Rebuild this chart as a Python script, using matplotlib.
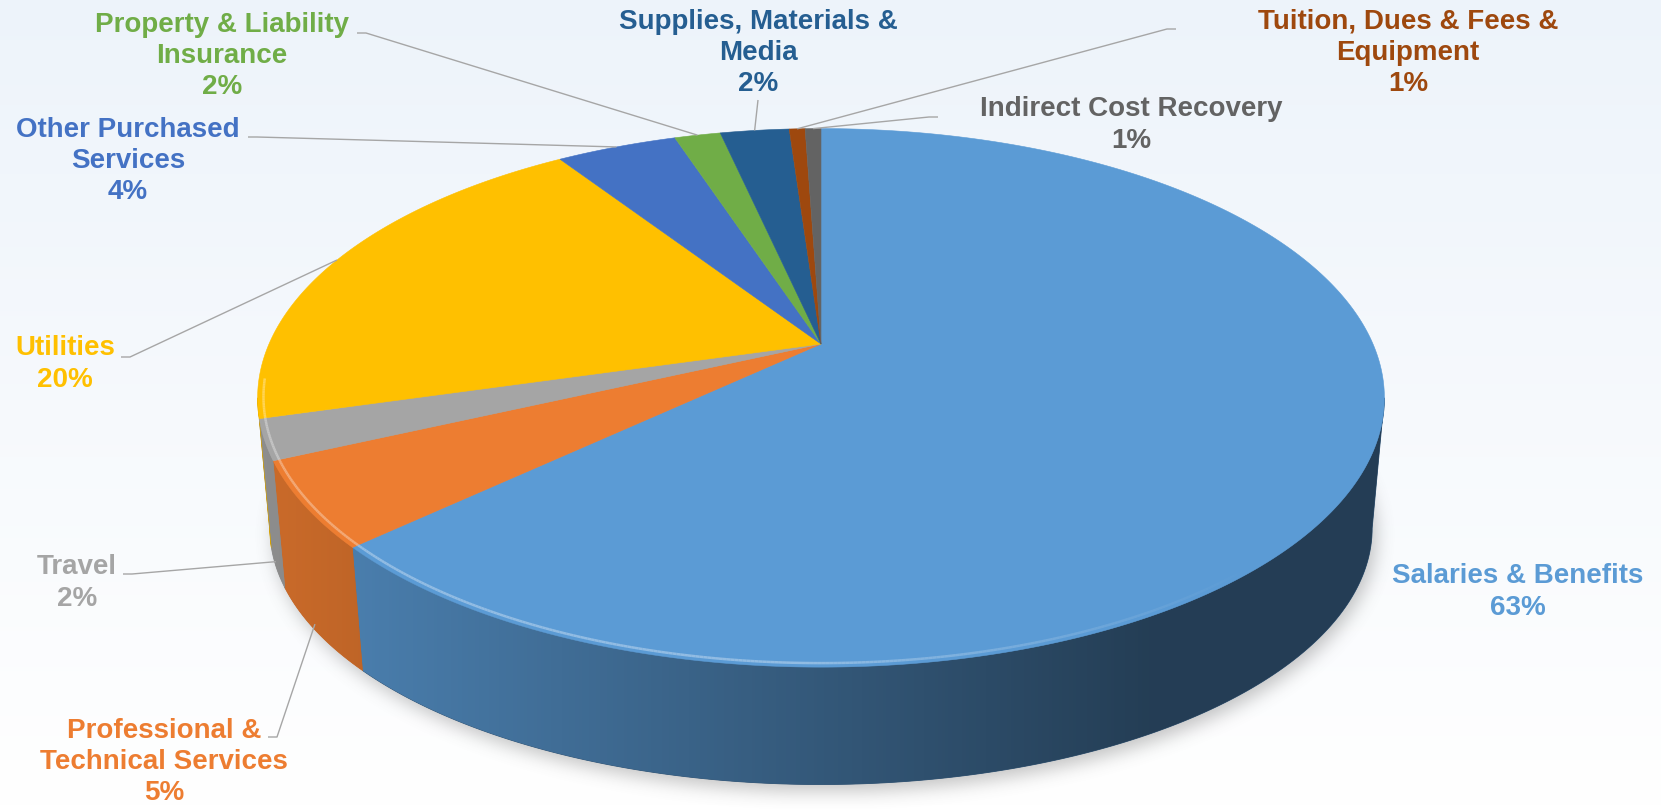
import numpy as np
import matplotlib
matplotlib.use('Agg')
import matplotlib.pyplot as plt
from matplotlib.path import Path
from matplotlib.patches import Polygon
from matplotlib.collections import LineCollection
from matplotlib.colors import to_rgb

# data (clockwise from 12 o'clock)
categories = ['Salaries & Benefits', 'Professional &\nTechnical Services', 'Travel',
              'Utilities', 'Other Purchased\nServices', 'Property & Liability\nInsurance',
              'Supplies, Materials &\nMedia', 'Tuition, Dues & Fees &\nEquipment',
              'Indirect Cost Recovery']
values = [63.1, 5.1, 2.4, 20.1, 4.2, 1.6, 2.4, 0.55, 0.55]
colors = ['#5B9BD5', '#ED7D31', '#A5A5A5', '#FFC000', '#4472C4', '#70AD47',
          '#255E91', '#9E480E', '#636363']

# label placement (pixels) and where the leader line leaves the label
label_xy = [(1518, 592), (164, 762), (77, 583), (65, 364), (128, 161),
            (222, 56), (758, 53), (1408, 53), (1131, 125)]
line_start = [None, (268, 737), (123, 574), (121, 357), (248, 137),
              (357, 33), (758, 100), (1176, 29), (938, 117)]

W, H = 1661, 809
fig = plt.figure(figsize=(W / 100, H / 100), dpi=100)
ax = fig.add_axes([0, 0, 1, 1])
ax.set_autoscale_on(False)
ax.set_xlim(0, W)
ax.set_ylim(H, 0)
ax.axis('off')

# background gradient
top_c = np.array([0.93, 0.955, 0.982])
grad = np.linspace(0, 1, 200)[:, None, None]
bg = top_c * (1 - grad) + np.ones(3) * grad
ax.imshow(bg, extent=(0, W, H, 0), aspect='auto', zorder=0)

# perspective pie geometry
cx, cy, A, B, k = 821, 344, 552, 258.5, 0.2
cyb, Ab, Bb = 477, 540, 246


def top_pt(deg, r=1.0):
    t = np.radians(deg)
    u, v = r * np.sin(t), -r * np.cos(t)
    w = 1 - k * v
    return np.column_stack([cx + A * u / w, cy + B * v / w])


def bot_pt(deg):
    t = np.radians(deg)
    u, v = np.sin(t), -np.cos(t)
    w = 1 - k * v
    return np.column_stack([cx + Ab * u / w, cyb + Bb * v / w])


total = sum(values)
spans = [v / total * 360 for v in values]
starts = np.concatenate([[0], np.cumsum(spans)[:-1]])
vis0 = np.degrees(np.arccos(-k))
vis1 = 360 - vis0

# soft shadow under the pie
ring = bot_pt(np.linspace(0, 360, 400)) + [4, 7]
xs, ys = np.meshgrid(np.arange(W) + 0.5, np.arange(H) + 0.5)
mask = Path(ring).contains_points(np.column_stack([xs.ravel(), ys.ravel()]))
mask = mask.reshape(H, W).astype(float)
kern = np.ones(17) / 17
for _ in range(3):
    mask = np.apply_along_axis(lambda m: np.convolve(m, kern, mode='same'), 1, mask)
    mask = np.apply_along_axis(lambda m: np.convolve(m, kern, mode='same'), 0, mask)
shadow = np.zeros((H, W, 4))
shadow[..., :3] = 0.42
shadow[..., 3] = 0.4 * mask
ax.imshow(shadow, extent=(0, W, H, 0), aspect='auto', zorder=1)


def shade(x):
    return 0.86 - 0.46 * np.clip((x - 257) / (1150 - 257), 0, 1)


# side walls
for a0, sp, col in zip(starts, spans, colors):
    lo, hi = max(a0, vis0), min(a0 + sp, vis1)
    if hi <= lo:
        continue
    angs = np.linspace(lo, hi, max(3, int((hi - lo) * 3)))
    pts = np.vstack([top_pt(angs), bot_pt(angs[::-1])])
    x0, x1 = pts[:, 0].min() - 2, pts[:, 0].max() + 2
    y0, y1 = pts[:, 1].min() - 2, pts[:, 1].max() + 2
    gx = np.linspace(x0, x1, 300)
    img = np.array(to_rgb(col))[None, None, :] * shade(gx)[None, :, None]
    base = Polygon(pts, closed=True, facecolor=img[0, len(gx) // 2],
                   edgecolor=img[0, len(gx) // 2], lw=0.6, zorder=2)
    ax.add_patch(base)
    im = ax.imshow(img, extent=(x0, x1, y1, y0), aspect='auto', zorder=2.1)
    clip = Polygon(pts, closed=True, transform=ax.transData)
    im.set_clip_path(clip)

# top faces
for a0, sp, col in zip(starts, spans, colors):
    angs = np.linspace(a0, a0 + sp, max(3, int(sp * 3)))
    pts = np.vstack([[cx, cy], top_pt(angs)])
    ax.add_patch(Polygon(pts, closed=True, facecolor=col, edgecolor=col,
                         lw=0.4, zorder=3))

# bevel highlight along the near rim
for a0, sp, col in zip(starts, spans, colors):
    lo, hi = max(a0, vis0), min(a0 + sp, vis1 + 4)
    if hi <= lo:
        continue
    angs = np.linspace(lo, hi, max(3, int((hi - lo) * 3)))
    p = top_pt(angs, 0.99)
    segs = np.stack([p[:-1], p[1:]], axis=1)
    light = np.array(to_rgb(col)) * 0.55 + 0.45
    xm = segs[:, :, 0].mean(axis=1)
    alph = 0.75 * np.clip((1250 - xm) / 450, 0, 1)
    rgba = np.column_stack([np.tile(light, (len(segs), 1)), alph])
    ax.add_collection(LineCollection(segs, colors=rgba, linewidths=1.8, zorder=4))

# leader lines
for i, (a0, sp) in enumerate(zip(starts, spans)):
    if line_start[i] is None:
        continue
    mid = a0 + sp / 2
    if vis0 < mid < vis1:
        end = top_pt([mid])[0] * 0.05 + bot_pt([mid])[0] * 0.95
    else:
        end = top_pt([mid])[0]
    sx, sy = line_start[i]
    if abs(end[0] - sx) < 5:
        path = [(sx, sy), tuple(end)]
    else:
        stub = 9 if end[0] > sx else -9
        path = [(sx, sy), (sx + stub, sy), tuple(end)]
    px, py = zip(*path)
    ax.plot(px, py, color='#A6A6A6', lw=1.0, zorder=5, solid_capstyle='butt')

# labels
for name, v, col, (lx, ly) in zip(categories, values, colors, label_xy):
    pct = int(v / total * 100 + 0.5)
    ax.text(lx, ly, f'{name}\n{pct}%', color=col, ha='center', va='center',
            multialignment='center', fontsize=20, fontweight='bold',
            family=['Liberation Sans', 'DejaVu Sans'], linespacing=1.27, zorder=6)

fig.savefig('out.png', dpi=100)
